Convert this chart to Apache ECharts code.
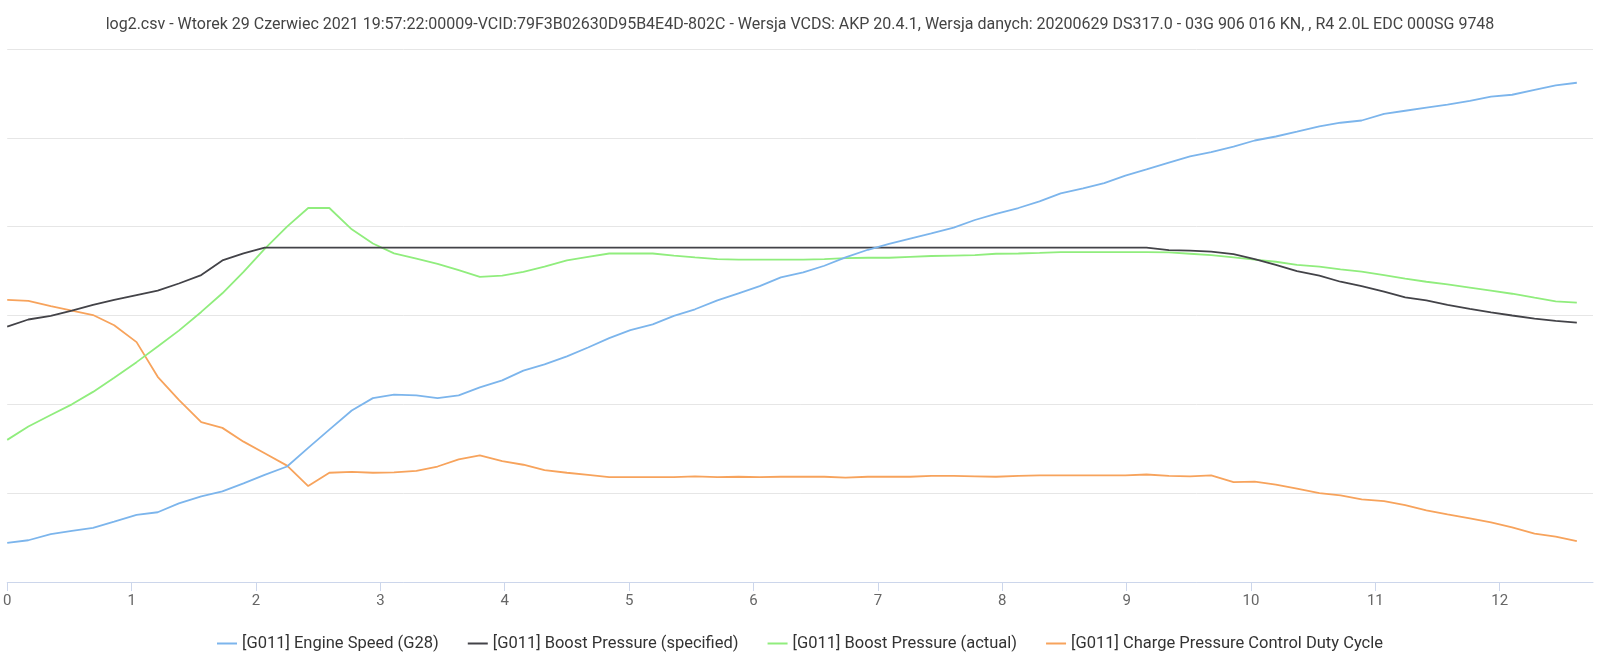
<!DOCTYPE html>
<html>
<head>
<meta charset="utf-8">
<script src="https://cdn.jsdelivr.net/npm/echarts@6/dist/echarts.min.js"></script>
<style>
	html, body { margin: 0; padding: 0; background: #fff; }
	#chart { width: 1600px; height: 667px; }
</style>
</head>
<body>
<div id="chart"></div>
<script>
// czas [s]
var czas = [0.00, 0.17, 0.35, 0.52, 0.69, 0.86, 1.04, 1.21, 1.38, 1.56,
	1.73, 1.90, 2.07, 2.25, 2.42, 2.59, 2.77, 2.94, 3.11, 3.29,
	3.46, 3.63, 3.80, 3.98, 4.15, 4.32, 4.50, 4.67, 4.84, 5.01,
	5.19, 5.36, 5.53, 5.71, 5.88, 6.05, 6.22, 6.40, 6.57, 6.74,
	6.92, 7.09, 7.26, 7.43, 7.61, 7.78, 7.95, 8.13, 8.30, 8.47,
	8.65, 8.82, 8.99, 9.16, 9.34, 9.51, 9.68, 9.86, 10.03, 10.20,
	10.37, 10.55, 10.72, 10.89, 11.07, 11.24, 11.41, 11.58, 11.76, 11.93,
	12.10, 12.28, 12.45, 12.62];

// wartosci w jednostkach wykresu (os Y ukryta)
var engineSpeed = [44, 47, 54, 57.5, 61, 68, 75.5, 78.5, 88.5, 96.5,
	102, 111, 120.5, 130, 151, 171.5, 193, 207, 211, 210,
	207, 210, 219, 227, 238, 245, 254, 264, 274.5, 283.5,
	290, 299.5, 307, 317, 325, 333, 343, 348.5, 356, 365.5,
	374, 380.5, 386.5, 392.5, 399, 407.5, 414.5, 421, 428.5, 437.5,
	443, 449, 457.5, 464.5, 472, 479, 484, 490, 497, 501.5,
	507, 513, 517, 519.5, 527, 530.5, 534, 537.5, 541.5, 546.5,
	548.5, 554, 559, 562];

var boostSpecified = [287.5, 295.5, 299.5, 305.5, 312, 317.5, 323, 328, 336, 345.5,
	362, 370, 376.5, 376.5, 376.5, 376.5, 376.5, 376.5, 376.5, 376.5,
	376.5, 376.5, 376.5, 376.5, 376.5, 376.5, 376.5, 376.5, 376.5, 376.5,
	376.5, 376.5, 376.5, 376.5, 376.5, 376.5, 376.5, 376.5, 376.5, 376.5,
	376.5, 376.5, 376.5, 376.5, 376.5, 376.5, 376.5, 376.5, 376.5, 376.5,
	376.5, 376.5, 376.5, 376.5, 373.5, 373, 372, 369, 363.5, 357,
	350, 345, 338, 333, 327, 320.5, 317, 312, 307.5, 303.5,
	300, 296.5, 294, 292];

var boostActual = [160, 175, 188, 200, 214, 230, 247.5, 265, 283, 304,
	325, 349, 375, 400, 421, 421, 397, 381, 370, 364,
	358, 351, 343.5, 345, 349, 355, 362, 366, 369.8, 369.8,
	369.8, 367.5, 365.5, 363.5, 363, 363, 363, 363, 363.5, 364.5,
	365, 365, 366, 367, 367.5, 368, 369.5, 369.8, 370.5, 371.4,
	371.4, 371.4, 371.4, 371.4, 371, 369.5, 368, 365.5, 363, 360.5,
	357, 355, 352, 349.5, 345.5, 341.5, 338, 335, 331.5, 328,
	324.5, 320, 316, 314.5];

var dutyCycle = [317.5, 316.5, 310.5, 305.5, 300.5, 289, 270, 231, 205, 180,
	173.5, 158, 145, 131, 108, 123, 124, 123, 123.5, 125,
	130, 138, 142.5, 136, 132, 126, 123, 120.5, 118, 118,
	118, 118, 119, 118, 118.5, 118, 118.5, 118.5, 118.5, 117.5,
	118.5, 118.5, 118.5, 119.5, 119.5, 119, 118.5, 119.5, 120, 120,
	120, 120, 120, 121, 119.5, 119, 120, 112.5, 113, 109.5,
	105, 100, 97.5, 93, 91, 86.5, 80.5, 76, 71.5, 67,
	61.5, 54.5, 51, 46];

var nazwy = ['[G011] Engine Speed (G28)', '[G011] Boost Pressure (specified)',
	'[G011] Boost Pressure (actual)', '[G011] Charge Pressure Control Duty Cycle'];
var kolory = ['#7cb5ec', '#434348', '#90ed7d', '#f7a35c'];

var tytul = 'log2.csv - Wtorek 29 Czerwiec 2021 19:57:22:00009-VCID:79F3B02630D95B4E4D-802C - Wersja VCDS: AKP 20.4.1, Wersja danych: 20200629 DS317.0 - 03G 906 016 KN, , R4 2.0L EDC 000SG 9748';

function pary(vals) {
	return czas.map(function (t, i) { return [t, vals[i]]; });
}

var chart = echarts.init(document.getElementById('chart'));
var wszystkie = [engineSpeed, boostSpecified, boostActual, dutyCycle];

chart.setOption({
	animation: false,
	title: {
		text: tytul,
		left: 'center',
		top: 12,
		textStyle: {
			color: '#444444',
			fontSize: 16,
			fontWeight: 'normal',
			fontFamily: 'Roboto'
		}
	},
	legend: {
		bottom: 10,
		left: 'center',
		icon: 'rect',
		itemWidth: 20,
		itemHeight: 2,
		itemGap: 29,
		textStyle: { color: '#333333', fontSize: 16.5, fontFamily: 'Roboto' },
		data: nazwy
	},
	grid: { left: 6, right: 7, top: 49, bottom: 85, containLabel: false },
	xAxis: {
		type: 'value',
		min: 0,
		max: 12.75,
		interval: 1,
		axisLine: { lineStyle: { color: '#ccd6eb', width: 1 } },
		axisTick: { show: true, length: 9, lineStyle: { color: '#ccd6eb' } },
		axisLabel: { color: '#666666', fontSize: 15, fontFamily: 'Roboto', margin: 12, showMaxLabel: false },
		splitLine: { show: false }
	},
	yAxis: {
		type: 'value',
		min: 0,
		max: 600,
		interval: 100,
		axisLabel: { show: false },
		axisLine: { show: false },
		axisTick: { show: false },
		splitLine: { lineStyle: { color: '#e6e6e6', width: 1 } }
	},
	series: wszystkie.map(function (vals, k) {
		return {
			name: nazwy[k],
			type: 'line',
			data: pary(vals),
			showSymbol: false,
			symbol: 'none',
			color: kolory[k],
			lineStyle: { width: 1.8, color: kolory[k] },
			z: 10 - k
		};
	})
});

window.onresize = function () {
	chart.resize();
};
</script>
</body>
</html>
